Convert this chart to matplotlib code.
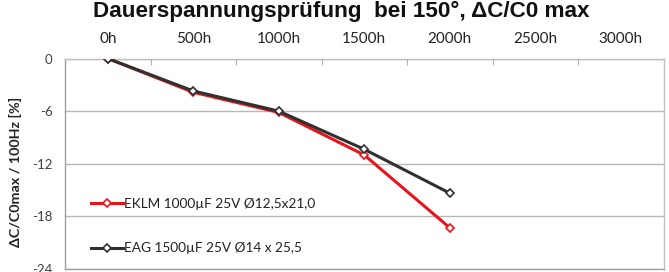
import matplotlib
matplotlib.use("Agg")
import matplotlib.pyplot as plt

categories = ["0h", "500h", "1000h", "1500h", "2000h", "2500h", "3000h"]
eklm = [0, -3.85, -6.15, -11.0, -19.3]
eag = [0, -3.7, -6.0, -10.35, -15.35]
eklm_label = "EKLM 1000µF 25V Ø12,5x21,0"
eag_label = "EAG 1500µF 25V Ø14 x 25,5"
yticks = [0, -6, -12, -18, -24]
title = "Dauerspannungsprüfung  bei 150°, ΔC/C0 max"
ylabel = "ΔC/C0max / 100Hz [%]"

W, H = 669, 272
fig = plt.figure(figsize=(W / 100, H / 100), dpi=100)
left, right, top, bottom = 65, 663.5, 58.5, 269
ax = fig.add_axes([left / W, 1 - bottom / H, (right - left) / W, (bottom - top) / H])

tickfont = "Lato"
red = "#e8141b"
dark = "#303030"

x_e = list(range(len(eklm)))
x_g = list(range(len(eag)))
ax.plot(x_e, eklm, color=red, lw=2.2, marker="D", ms=4.5, mfc="white", mec=red, mew=1.2,
        label=eklm_label, zorder=3)
ax.plot(x_g, eag, color=dark, lw=2.2, marker="D", ms=4.5, mfc="white", mec=dark, mew=1.2,
        label=eag_label, zorder=4)

ax.set_xlim(-0.5, len(categories) - 0.5)
ax.set_ylim(-24, 0)
ax.set_yticks(yticks)
ax.set_yticklabels([str(v) for v in yticks], fontfamily=tickfont, fontsize=9.5, color="#404040")
ax.yaxis.grid(True, color="#b8b8b8", lw=1)
ax.set_axisbelow(True)
ax.tick_params(axis="y", length=0, pad=9)

ax.xaxis.tick_top()
ax.set_xticks(range(len(categories)))
ax.set_xticklabels(categories, fontfamily=tickfont, fontsize=11, color="#222222")
ax.set_xticks([i + 0.5 for i in range(len(categories) - 1)], minor=True)
ax.tick_params(axis="x", which="major", length=0, pad=9)
ax.tick_params(axis="x", which="minor", direction="in", length=4, color="#a0a0a0", top=True, bottom=False)

for s in ["top", "right"]:
    ax.spines[s].set_color("#c0c0c0")
ax.spines["left"].set_color("#a0a0a0")
ax.spines["bottom"].set_color("#a0a0a0")
for s in ax.spines.values():
    s.set_linewidth(1)

ax.set_ylabel(ylabel, fontfamily=tickfont, fontweight="bold", fontsize=10.3, color="#222222")
ax.yaxis.set_label_coords(-43 / (right - left), (bottom - 172) / (bottom - top))

leg = ax.legend(loc="upper left", bbox_to_anchor=(0.035, 0.365), frameon=False,
                prop={"family": tickfont, "size": 9.8}, handlelength=2.3, handletextpad=0.1,
                labelspacing=2.4, borderaxespad=0)
for t in leg.get_texts():
    t.set_color("#222222")

fig.text(341 / W, 1 - 17.5 / H, title, ha="center", va="baseline",
         fontfamily="Liberation Sans", fontweight="bold", fontsize=16.2, color="#111111")

fig.savefig("out.png", dpi=100)
